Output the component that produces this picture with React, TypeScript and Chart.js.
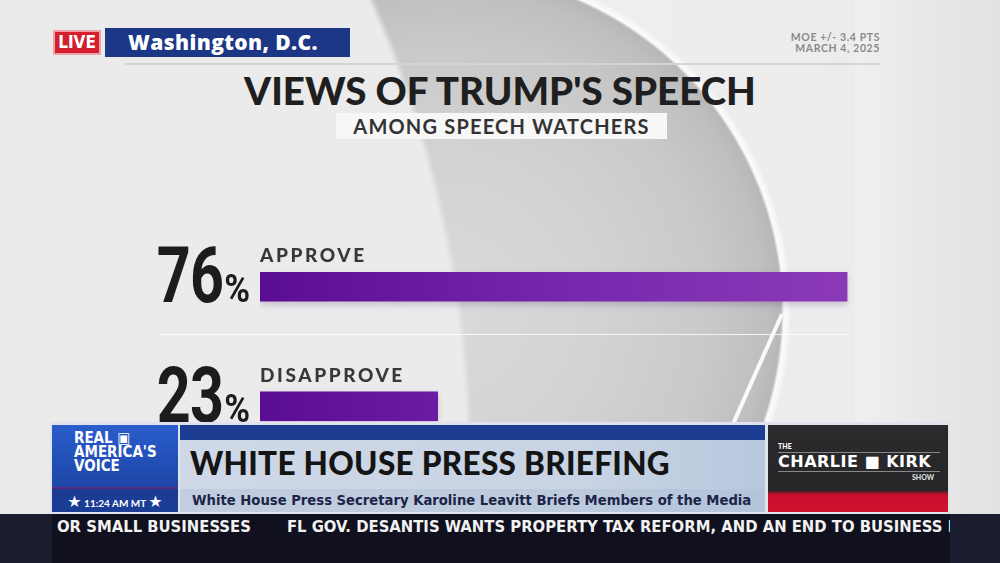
import React, { useEffect, useRef } from "react";
import { Chart, registerables } from "chart.js";

Chart.register(...registerables);

// ---- data ----
const categories = ["APPROVE", "DISAPPROVE"];
const values = [76, 23];
const valueSuffix = "%";
const title = "VIEWS OF TRUMP'S SPEECH";
const subtitle = "AMONG SPEECH WATCHERS";
const location = "Washington, D.C.";
const moeLines = ["MOE +/- 3.4 PTS", "MARCH 4, 2025"];
const bannerTitle = "WHITE HOUSE PRESS BRIEFING";
const bannerSub = "White House Press Secretary Karoline Leavitt Briefs Members of the Media";
const tickerItems = ["OR SMALL BUSINESSES", "FL GOV. DESANTIS WANTS PROPERTY TAX REFORM, AND AN END TO BUSINESS I"];
const clockText = "11:24 AM MT";

const barShadowPlugin = {
  id: "barShadow",
  beforeDatasetsDraw(chart: any) {
    const ctx = chart.ctx;
    ctx.save();
    ctx.shadowColor = "rgba(60,0,90,0.18)";
    ctx.shadowBlur = 6;
    ctx.shadowOffsetY = 3;
  },
  afterDatasetsDraw(chart: any) {
    chart.ctx.restore();
  },
};

const barLabelsPlugin = {
  id: "barLabels",
  afterDatasetsDraw(chart: any) {
    const ctx = chart.ctx;
    const meta = chart.getDatasetMeta(0);
    const ds = chart.data.datasets[0];
    meta.data.forEach((bar: any, i: number) => {
      const { y, base, height } = bar.getProps(["x", "y", "base", "height"], true);
      const top = y - height / 2;
      const bottom = y + height / 2;
      ctx.save();
      // category label
      ctx.fillStyle = "#383838";
      ctx.font = "900 19px Lato, 'Open Sans', sans-serif";
      ctx.textAlign = "left";
      ctx.textBaseline = "alphabetic";
      (ctx as any).letterSpacing = "2.6px";
      ctx.fillText(String(chart.data.labels[i]), base, top - 10);
      (ctx as any).letterSpacing = "0px";
      // percent sign
      const right = base - 10;
      ctx.fillStyle = "#1c1c1c";
      ctx.textAlign = "right";
      const pctScale = 0.92;
      ctx.font = "bold 38px Roboto, sans-serif";
      const pctW = ctx.measureText(valueSuffix).width * pctScale;
      ctx.save();
      ctx.translate(right, bottom + 1);
      ctx.scale(pctScale, 1);
      ctx.fillText(valueSuffix, 0, 0);
      ctx.restore();
      // big number (condensed)
      ctx.save();
      ctx.translate(right - pctW - 1, bottom + 1);
      ctx.scale(0.76, 1);
      ctx.font = "bold 78px Roboto, sans-serif";
      (ctx as any).letterSpacing = "-1px";
      ctx.fillText(String(ds.data[i]), 0, 0);
      ctx.restore();
      ctx.restore();
    });
  },
};

function BarChart() {
  const ref = useRef<HTMLCanvasElement>(null);
  useEffect(() => {
    if (!ref.current) return;
    const chart = new Chart(ref.current, {
      type: "bar",
      data: {
        labels: categories,
        datasets: [
          {
            data: values,
            barThickness: 29,
            borderWidth: 0,
            backgroundColor: (c: any) => {
              const area = c.chart.chartArea;
              if (!area) return "#6a1aa6";
              const g = c.chart.ctx.createLinearGradient(area.left, 0, area.right, 0);
              g.addColorStop(0, "#5a0c92");
              g.addColorStop(0.5, "#7627ad");
              g.addColorStop(1, "#8e3cb8");
              return g;
            },
          },
        ],
      },
      options: {
        indexAxis: "y",
        responsive: false,
        animation: false,
        layout: { padding: { left: 260, right: 122, top: 0, bottom: 0 } },
        scales: {
          x: { display: false, min: 0, max: 80 },
          y: { display: false },
        },
        plugins: { legend: { display: false }, tooltip: { enabled: false } },
      },
      plugins: [barShadowPlugin, barLabelsPlugin],
    } as any);
    return () => chart.destroy();
  }, []);
  return (
    <canvas
      ref={ref}
      width={1000}
      height={239}
      style={{ position: "absolute", left: 0, top: 227, width: 1000, height: 239 }}
    />
  );
}

const geo = "Lato, 'Open Sans', 'DejaVu Sans', sans-serif";

export default function App() {
  return (
    <div
      style={{
        position: "absolute",
        left: 0,
        top: 0,
        width: 1000,
        height: 563,
        overflow: "hidden",
        fontFamily: geo,
        background:
          "radial-gradient(circle 1155px at -684px 465px, #eaeaea 0px, #ebebeb 1150px, rgba(235,235,235,0) 1157px)," +
          "radial-gradient(circle 342px at 444px 311px, #dadada 0px, #d3d3d3 150px, #c9c9c9 267px, #bfbfbf 320px, #b8b8b8 337px, #fbfbfb 340px, #f6f6f6 344px, rgba(240,240,240,0) 347px)," +
          "linear-gradient(90deg, #ececec 0%, #eeeeee 60%, #ececec 85%, #e6e6e6 100%)",
      }}
    >
      {/* right edge shading */}
      <div style={{ position: "absolute", left: 855, top: 0, width: 145, height: 563, background: "linear-gradient(90deg, #f0f0f0, #e9e9e9 40%, #e2e2e2)" }} />
      {/* white diagonal */}
      <div style={{ position: "absolute", left: 782, top: 312, width: 120, height: 4, background: "#fafafa", transformOrigin: "0 50%", transform: "rotate(114deg)" }} />
      {/* header */}
      <div style={{ position: "absolute", left: 53, top: 30, width: 48, height: 25, background: "#d2202f", boxShadow: "inset 0 0 0 2px #f0a0a8", color: "#fff", fontWeight: 900, fontSize: 17, lineHeight: "25px", textAlign: "center", fontFamily: "'DejaVu Sans Condensed', sans-serif" }}>LIVE</div>
      <div style={{ position: "absolute", left: 105, top: 28, width: 245, height: 29, background: "#1b3785", color: "#fff", fontWeight: 800, fontSize: 21, lineHeight: "29px", paddingLeft: 23, boxSizing: "border-box", fontFamily: "'Open Sans', sans-serif", letterSpacing: 0.4 }}>{location}</div>
      <div style={{ position: "absolute", left: 125, top: 63, width: 755, height: 2, background: "#d4d4d4" }} />
      <div style={{ position: "absolute", left: 760, top: 32, width: 120, color: "#8a8a8a", fontSize: 10.5, fontWeight: 700, lineHeight: "11px", textAlign: "right", letterSpacing: 0.6 }}>
        {moeLines.map((l) => (
          <div key={l}>{l}</div>
        ))}
      </div>
      <div style={{ position: "absolute", left: 0, top: 67, width: 1000, textAlign: "center", color: "#1f1f1f", fontSize: 38.5, fontWeight: 900, letterSpacing: 0, lineHeight: "46px" }}>{title}</div>
      <div style={{ position: "absolute", left: 336, top: 113, width: 331, height: 26, background: "#f7f7f7", color: "#333", fontSize: 20, fontWeight: 700, lineHeight: "26px", textAlign: "center", letterSpacing: 1.2 }}>{subtitle}</div>
      {/* separator line */}
      <div style={{ position: "absolute", left: 160, top: 334, width: 690, height: 1, background: "rgba(255,255,255,0.8)" }} />

      <BarChart />

      {/* lower third */}
      <div style={{ position: "absolute", left: 50, top: 422, width: 900, height: 92, background: "#dfe4ec" }} />
      <div style={{ position: "absolute", left: 52, top: 425, width: 126, height: 62, background: "linear-gradient(180deg, #2a5ccc, #1d47a8)", color: "#fff", fontWeight: 900, fontSize: 15, lineHeight: "14px", padding: "6px 0 0 22px", boxSizing: "border-box", fontFamily: "'DejaVu Sans Condensed', sans-serif" }}>
        <div>REAL ▣</div>
        <div>AMERICA'S</div>
        <div>VOICE</div>
      </div>
      <div style={{ position: "absolute", left: 52, top: 487, width: 126, height: 25, background: "#1b3c94", borderTop: "2px solid #5a2a7a", boxSizing: "border-box", color: "#fff", fontSize: 10, fontWeight: 700, lineHeight: "23px", textAlign: "center" }}>
        <span style={{ fontSize: 16 }}>★</span> {clockText} <span style={{ fontSize: 16 }}>★</span>
      </div>
      <div style={{ position: "absolute", left: 180, top: 425, width: 585, height: 15, background: "#1c3d92" }} />
      <div style={{ position: "absolute", left: 180, top: 440, width: 585, height: 72, background: "linear-gradient(90deg, #cfd8e6, #c8d3e4 70%, #b9c8de)" }} />
      <div style={{ position: "absolute", left: 190, top: 443, color: "#141414", fontSize: 31.5, fontWeight: 900, lineHeight: "40px", letterSpacing: 0.3 }}>{bannerTitle}</div>
      <div style={{ position: "absolute", left: 180, top: 489, width: 585, height: 23, background: "rgba(170,185,210,0.35)" }} />
      <div style={{ position: "absolute", left: 192, top: 490, color: "#1c2448", fontSize: 13.2, fontWeight: 700, lineHeight: "22px", fontFamily: "'DejaVu Sans', sans-serif" }}>{bannerSub}</div>
      <div style={{ position: "absolute", left: 768, top: 425, width: 180, height: 87, background: "linear-gradient(180deg, #2b2b2e 0%, #262628 75%, #c8102e 80%, #d0102e 100%)" }} />
      <div style={{ position: "absolute", left: 778, top: 442, color: "#fff", fontSize: 7, fontWeight: 900 }}>THE</div>
      <div style={{ position: "absolute", left: 778, top: 452, width: 162, color: "#fff", fontSize: 16, fontWeight: 900, letterSpacing: 0.5, fontFamily: "'DejaVu Sans', sans-serif", borderTop: "1px solid #888", borderBottom: "1px solid #888", lineHeight: "18px" }}>CHARLIE ■ KIRK</div>
      <div style={{ position: "absolute", left: 912, top: 473, color: "#ddd", fontSize: 7, fontWeight: 900 }}>SHOW</div>

      {/* ticker */}
      <div style={{ position: "absolute", left: 0, top: 514, width: 1000, height: 49, background: "#1a1c30" }} />
      <div style={{ position: "absolute", left: 52, top: 514, width: 898, height: 49, background: "#10101e" }} />
      <div style={{ position: "absolute", left: 57, top: 516, width: 893, height: 22, overflow: "hidden", whiteSpace: "nowrap", color: "#f2f2f2", fontSize: 16.5, fontWeight: 700, lineHeight: "22px", fontFamily: "'DejaVu Sans Condensed', sans-serif" }}>
        {tickerItems[0]}
        <span style={{ display: "inline-block", width: 36 }} />
        {tickerItems[1]}
      </div>
    </div>
  );
}
